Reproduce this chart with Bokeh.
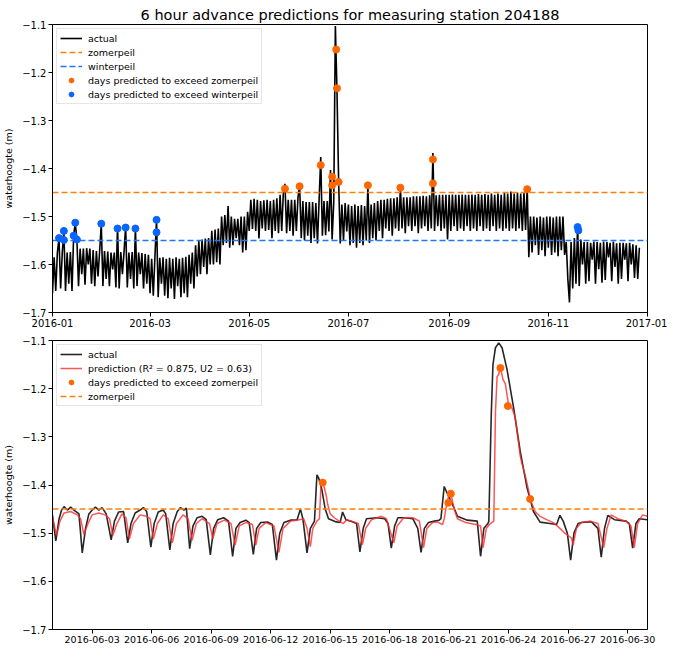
import pandas as pd
from bokeh.plotting import figure
from bokeh.layouts import column
from bokeh.models import FixedTicker, DatetimeTickFormatter, Range1d, Legend, LegendItem
from bokeh.embed import file_html
from bokeh.resources import INLINE

FONT = "DejaVu Sans"

# ---------------- data ----------------
title_text = "6 hour advance predictions for measuring station 204188"
y_label = "waterhoogte (m)"
zomerpeil = -1.45
winterpeil = -1.55

y_tick_values = [-1.7, -1.6, -1.5, -1.4, -1.3, -1.2, -1.1]
y_tick_labels = ["\u22121.7", "\u22121.6", "\u22121.5", "\u22121.4", "\u22121.3", "\u22121.2", "\u22121.1"]

# --- whole year: one value per day from 2016-01-01 ---
year_start = "2016-01-01"
year_end = "2017-01-01"
year_actual = [
    -1.660, -1.585, -1.655, -1.575, -1.545, -1.650, -1.576, -1.530, -1.655, -1.575,  # d0
    -1.640, -1.574, -1.655, -1.540, -1.513, -1.548, -1.645, -1.567, -1.620, -1.567,  # d10
    -1.642, -1.566, -1.600, -1.567, -1.640, -1.570, -1.645, -1.572, -1.625, -1.572,  # d20
    -1.515, -1.645, -1.572, -1.630, -1.573, -1.645, -1.575, -1.610, -1.575, -1.648,  # d30
    -1.520, -1.650, -1.574, -1.620, -1.574, -1.520, -1.648, -1.575, -1.630, -1.574,  # d40
    -1.650, -1.522, -1.645, -1.575, -1.620, -1.576, -1.650, -1.578, -1.640, -1.580,  # d50
    -1.660, -1.588, -1.665, -1.585, -1.505, -1.668, -1.586, -1.640, -1.585, -1.665,  # d60
    -1.588, -1.670, -1.586, -1.650, -1.588, -1.672, -1.585, -1.645, -1.588, -1.668,  # d70
    -1.586, -1.660, -1.584, -1.668, -1.580, -1.640, -1.575, -1.650, -1.560, -1.625,  # d80
    -1.550, -1.620, -1.548, -1.605, -1.546, -1.620, -1.545, -1.600, -1.530, -1.600,  # d90
    -1.527, -1.595, -1.525, -1.600, -1.500, -1.560, -1.497, -1.555, -1.478, -1.565,  # d100
    -1.500, -1.560, -1.505, -1.545, -1.505, -1.560, -1.500, -1.575, -1.500, -1.570,  # d110
    -1.490, -1.530, -1.465, -1.526, -1.463, -1.530, -1.465, -1.546, -1.468, -1.525,  # d120
    -1.466, -1.530, -1.465, -1.528, -1.468, -1.545, -1.465, -1.530, -1.462, -1.535,  # d130
    -1.455, -1.530, -1.450, -1.432, -1.535, -1.465, -1.530, -1.465, -1.540, -1.465,  # d140
    -1.530, -1.460, -1.435, -1.545, -1.468, -1.550, -1.470, -1.540, -1.470, -1.555,  # d150
    -1.470, -1.545, -1.472, -1.556, -1.465, -1.376, -1.540, -1.468, -1.539, -1.468,  # d160
    -1.531, -1.403, -1.548, -1.470, -1.103, -1.240, -1.425, -1.556, -1.475, -1.550,  # d170
    -1.472, -1.531, -1.475, -1.560, -1.478, -1.555, -1.475, -1.565, -1.478, -1.555,  # d180
    -1.476, -1.560, -1.478, -1.550, -1.435, -1.555, -1.475, -1.545, -1.472, -1.550,  # d190
    -1.468, -1.530, -1.465, -1.545, -1.465, -1.525, -1.463, -1.530, -1.462, -1.540,  # d200
    -1.462, -1.525, -1.460, -1.530, -1.438, -1.525, -1.460, -1.535, -1.460, -1.520,  # d210
    -1.460, -1.530, -1.458, -1.520, -1.458, -1.535, -1.458, -1.525, -1.457, -1.520,  # d220
    -1.458, -1.530, -1.456, -1.525, -1.368, -1.530, -1.456, -1.520, -1.455, -1.530,  # d230
    -1.455, -1.525, -1.455, -1.548, -1.455, -1.530, -1.454, -1.520, -1.455, -1.530,  # d240
    -1.455, -1.525, -1.454, -1.530, -1.455, -1.520, -1.455, -1.530, -1.454, -1.525,  # d250
    -1.455, -1.530, -1.453, -1.520, -1.455, -1.530, -1.453, -1.525, -1.455, -1.530,  # d260
    -1.452, -1.520, -1.455, -1.530, -1.452, -1.525, -1.455, -1.530, -1.450, -1.525,  # d270
    -1.452, -1.530, -1.448, -1.525, -1.452, -1.530, -1.450, -1.525, -1.452, -1.530,  # d280
    -1.450, -1.528, -1.440, -1.585, -1.500, -1.575, -1.500, -1.560, -1.502, -1.580,  # d290
    -1.500, -1.570, -1.502, -1.583, -1.500, -1.565, -1.500, -1.580, -1.502, -1.575,  # d300
    -1.500, -1.583, -1.500, -1.570, -1.500, -1.580, -1.553, -1.630, -1.679, -1.553,  # d310
    -1.650, -1.545, -1.640, -1.520, -1.645, -1.548, -1.600, -1.553, -1.640, -1.553,  # d320
    -1.635, -1.555, -1.590, -1.552, -1.640, -1.553, -1.610, -1.555, -1.638, -1.552,  # d330
    -1.632, -1.553, -1.585, -1.555, -1.635, -1.552, -1.605, -1.556, -1.640, -1.555,  # d340
    -1.630, -1.555, -1.590, -1.556, -1.635, -1.555, -1.600, -1.558, -1.628, -1.560,  # d350
    -1.630, -1.565,                                                                  # d360
]
year_zomer_days = [143, 152, 165, 172, 172, 174.5, 175, 176, 194, 214, 234, 234, 292]
year_zomer_vals = [-1.442, -1.437, -1.393, -1.417, -1.435, -1.152, -1.233, -1.428,
                   -1.435, -1.440, -1.381, -1.431, -1.443]
year_winter_days = [4, 7, 7, 13, 14, 15, 30, 40, 45, 51, 64, 64, 323, 323.5]
year_winter_vals = [-1.545, -1.530, -1.549, -1.540, -1.513, -1.548, -1.515, -1.525,
                    -1.523, -1.525, -1.507, -1.533, -1.522, -1.529]
year_ticks = ["2016-01", "2016-03", "2016-05", "2016-07", "2016-09", "2016-11", "2017-01"]

# --- June 2016 (hours from 2016-06-01 00:00) ---
june_start = "2016-06-01"
june_end = "2016-07-01"
june_t_actual = [
    0, 4, 8, 11, 14, 18, 22, 26, 32, 36,
    40, 44, 48, 52, 56, 60, 65, 71, 75, 80,
    86, 91, 95, 100, 106, 110, 114, 119, 123, 128,
    134, 137, 142, 146, 151, 155, 159, 162, 166, 170,
    175, 181, 186, 191, 195, 200, 207, 213, 218, 222,
    227, 234, 238, 243, 247, 252, 260, 266, 271, 275,
    280, 288, 296, 300, 303, 308, 312, 317, 320, 322,
    326, 330, 334, 342, 348, 351, 355, 362, 368, 372,
    376, 380, 392, 402, 406, 410, 414, 418, 425, 436,
    442, 446, 450, 455, 462, 468, 470, 474, 477, 484,
    490, 502, 514, 518, 522, 527, 528, 531, 533, 536,
    540, 544, 550, 558, 566, 574, 582, 590, 602, 610,
    614, 618, 623, 627, 631, 636, 640, 652, 660, 664,
    668, 672, 680, 694, 698, 702, 706, 710, 720,
]
june_actual = [
    -1.463, -1.516, -1.470, -1.452, -1.445, -1.452, -1.446, -1.452, -1.460, -1.541,
    -1.490, -1.460, -1.452, -1.446, -1.452, -1.447, -1.460, -1.514, -1.475, -1.456,
    -1.455, -1.520, -1.480, -1.458, -1.452, -1.447, -1.455, -1.529, -1.480, -1.456,
    -1.452, -1.460, -1.535, -1.480, -1.455, -1.447, -1.452, -1.448, -1.532, -1.485,
    -1.468, -1.465, -1.472, -1.545, -1.490, -1.472, -1.468, -1.475, -1.548, -1.490,
    -1.478, -1.473, -1.478, -1.544, -1.490, -1.478, -1.477, -1.482, -1.556, -1.500,
    -1.478, -1.473, -1.472, -1.450, -1.470, -1.541, -1.490, -1.475, -1.379, -1.385,
    -1.410, -1.450, -1.470, -1.476, -1.478, -1.456, -1.472, -1.476, -1.480, -1.539,
    -1.490, -1.470, -1.468, -1.470, -1.480, -1.531, -1.485, -1.468, -1.468, -1.470,
    -1.490, -1.540, -1.490, -1.478, -1.475, -1.473, -1.470, -1.403, -1.415, -1.440,
    -1.465, -1.473, -1.475, -1.548, -1.490, -1.480, -1.475, -1.250, -1.150, -1.115,
    -1.105, -1.115, -1.160, -1.240, -1.330, -1.404, -1.455, -1.477, -1.480, -1.482,
    -1.463, -1.475, -1.500, -1.556, -1.500, -1.480, -1.478, -1.476, -1.490, -1.550,
    -1.490, -1.463, -1.472, -1.475, -1.480, -1.531, -1.480, -1.470, -1.472,
]
june_t_pred = [
    0, 5, 9, 14, 22, 30, 34, 38, 43, 48,
    56, 64, 69, 73, 78, 84, 89, 93, 98, 106,
    114, 118, 122, 127, 134, 140, 145, 150, 158, 164,
    169, 174, 181, 190, 194, 199, 208, 216, 221, 226,
    234, 242, 246, 250, 258, 268, 274, 279, 288, 296,
    304, 308, 312, 315, 320, 323, 325, 328, 331, 333,
    336, 341, 347, 352, 356, 362, 370, 375, 379, 386,
    398, 404, 413, 417, 425, 436, 444, 449, 453, 460,
    466, 472, 474, 477, 480, 483, 486, 490, 500, 512,
    518, 521, 525, 530, 534, 536, 538, 540, 542, 545,
    548, 552, 556, 560, 563, 566, 568, 572, 576, 578,
    584, 590, 598, 606, 614, 620, 624, 628, 630, 634,
    640, 650, 660, 667, 671, 676, 684, 694, 700, 704,
    708, 714, 720,
]
june_pred = [
    -1.468, -1.505, -1.475, -1.458, -1.455, -1.462, -1.470, -1.503, -1.480, -1.462,
    -1.458, -1.462, -1.470, -1.505, -1.480, -1.460, -1.468, -1.512, -1.480, -1.462,
    -1.465, -1.470, -1.512, -1.480, -1.462, -1.470, -1.520, -1.480, -1.462, -1.470,
    -1.515, -1.480, -1.470, -1.480, -1.512, -1.480, -1.473, -1.480, -1.525, -1.485,
    -1.478, -1.482, -1.525, -1.490, -1.478, -1.485, -1.540, -1.490, -1.475, -1.473,
    -1.470, -1.490, -1.528, -1.490, -1.475, -1.470, -1.395, -1.400, -1.420, -1.440,
    -1.460, -1.468, -1.475, -1.480, -1.472, -1.475, -1.480, -1.524, -1.490, -1.472,
    -1.465, -1.470, -1.520, -1.485, -1.468, -1.468, -1.475, -1.530, -1.490, -1.478,
    -1.477, -1.482, -1.470, -1.440, -1.418, -1.425, -1.450, -1.470, -1.478, -1.482,
    -1.485, -1.530, -1.490, -1.480, -1.475, -1.250, -1.175, -1.170, -1.155, -1.180,
    -1.190, -1.235, -1.240, -1.260, -1.300, -1.340, -1.355, -1.380, -1.410, -1.430,
    -1.455, -1.465, -1.472, -1.478, -1.490, -1.500, -1.505, -1.510, -1.525, -1.490,
    -1.478, -1.475, -1.480, -1.530, -1.490, -1.462, -1.470, -1.475, -1.485, -1.530,
    -1.480, -1.462, -1.465,
]
june_dot_hours = [327, 479, 482, 542, 551, 578]
june_dot_vals = [-1.395, -1.437, -1.418, -1.157, -1.236, -1.429]
june_ticks = ["2016-06-03", "2016-06-06", "2016-06-09", "2016-06-12", "2016-06-15",
              "2016-06-18", "2016-06-21", "2016-06-24", "2016-06-27", "2016-06-30"]
pred_label = "prediction (R\u00b2 = 0.875, U2 = 0.63)"

# colours
C_ACTUAL = "black"
C_ZOMER_LINE = "#ff7f0e"
C_WINTER_LINE = "#1f77ff"
C_ZOMER_DOT = "#ff6600"
C_WINTER_DOT = "#0a64ff"
C_PRED = "#ff2a2a"


def ms(ts):
    return int(pd.Timestamp(ts).value // 10**6)


def style(p, tick_list, fmt, xfont):
    p.xgrid.visible = False
    p.ygrid.visible = False
    p.outline_line_color = "black"
    p.outline_line_width = 1
    p.background_fill_color = "white"
    p.border_fill_color = "white"
    p.xaxis.ticker = FixedTicker(ticks=[ms(t) for t in tick_list])
    p.xaxis.formatter = DatetimeTickFormatter(
        milliseconds=fmt, seconds=fmt, minsec=fmt, minutes=fmt, hourmin=fmt,
        hours=fmt, days=fmt, months=fmt, years=fmt)
    p.yaxis.ticker = FixedTicker(ticks=y_tick_values)
    p.yaxis.major_label_overrides = dict(zip(y_tick_values, y_tick_labels))
    for ax in (p.xaxis[0], p.yaxis[0]):
        ax.axis_line_color = "black"
        ax.major_tick_line_color = "black"
        ax.major_tick_out = 4
        ax.major_tick_in = 0
        ax.minor_tick_line_color = None
        ax.major_label_text_font = FONT
        ax.major_label_text_font_size = "10px"
        ax.major_label_text_color = "black"
        ax.major_label_standoff = 2
    p.xaxis.major_label_text_font_size = xfont
    p.yaxis.axis_label = y_label
    p.yaxis.axis_label_text_font = FONT
    p.yaxis.axis_label_text_font_size = "9.5px"
    p.yaxis.axis_label_text_font_style = "normal"
    p.yaxis.axis_label_text_color = "black"
    p.yaxis.axis_label_standoff = 5


def make_legend(items):
    lg = Legend(items=items, location="top_left")
    lg.label_text_font = FONT
    lg.label_text_font_size = "9.5px"
    lg.label_text_color = "black"
    lg.label_height = 12
    lg.glyph_height = 12
    lg.glyph_width = 22
    lg.label_standoff = 6
    lg.spacing = 2
    lg.padding = 3
    lg.margin = 4
    lg.border_line_color = "#cccccc"
    lg.border_line_width = 1
    lg.background_fill_color = "white"
    lg.background_fill_alpha = 0.85
    return lg


# ---------------- top figure: whole year ----------------
base_year = pd.Timestamp(year_start)
year_x = base_year + pd.to_timedelta(list(range(len(year_actual))), unit="D")
zomer_x = base_year + pd.to_timedelta(year_zomer_days, unit="D")
winter_x = base_year + pd.to_timedelta(year_winter_days, unit="D")

p1 = figure(width=667, height=332, x_axis_type="datetime", output_backend="svg",
            toolbar_location=None,
            x_range=Range1d(pd.Timestamp(year_start), pd.Timestamp(year_end)),
            y_range=Range1d(y_tick_values[0], y_tick_values[-1]),
            min_border_left=49, min_border_right=20, min_border_top=24, min_border_bottom=20)
p1.title.text = title_text
p1.title.text_font = FONT
p1.title.text_font_size = "14.5px"
p1.title.text_font_style = "normal"
p1.title.text_color = "black"
p1.title.align = "center"
p1.title.standoff = 4
style(p1, year_ticks, "%Y-%m", "10px")

edge_x = [pd.Timestamp(year_start), pd.Timestamp(year_end)]
r_act = p1.line(year_x, year_actual, line_color=C_ACTUAL, line_width=1.6)
r_zl = p1.line(edge_x, [zomerpeil, zomerpeil], line_color=C_ZOMER_LINE, line_width=1.5, line_dash="6 3")
r_wl = p1.line(edge_x, [winterpeil, winterpeil], line_color=C_WINTER_LINE, line_width=1.5, line_dash="6 3")
r_zd = p1.scatter(zomer_x, year_zomer_vals, size=7, fill_color=C_ZOMER_DOT, line_color=C_ZOMER_DOT)
r_wd = p1.scatter(winter_x, year_winter_vals, size=7, fill_color=C_WINTER_DOT, line_color=C_WINTER_DOT)
p1.add_layout(make_legend([
    LegendItem(label="actual", renderers=[r_act]),
    LegendItem(label="zomerpeil", renderers=[r_zl]),
    LegendItem(label="winterpeil", renderers=[r_wl]),
    LegendItem(label="days predicted to exceed zomerpeil", renderers=[r_zd]),
    LegendItem(label="days predicted to exceed winterpeil", renderers=[r_wd]),
]))

# ---------------- bottom figure: June ----------------
base_june = pd.Timestamp(june_start)
ja_x = base_june + pd.to_timedelta(june_t_actual, unit="h")
jp_x = base_june + pd.to_timedelta(june_t_pred, unit="h")
jd_x = base_june + pd.to_timedelta(june_dot_hours, unit="h")

p2 = figure(width=667, height=315, x_axis_type="datetime", output_backend="svg",
            toolbar_location=None,
            x_range=Range1d(pd.Timestamp(june_start), pd.Timestamp(june_end)),
            y_range=Range1d(y_tick_values[0], y_tick_values[-1]),
            min_border_left=49, min_border_right=20, min_border_top=8, min_border_bottom=18)
style(p2, june_ticks, "%Y-%m-%d", "9.5px")

edge_j = [pd.Timestamp(june_start), pd.Timestamp(june_end)]
r2_act = p2.line(ja_x, june_actual, line_color=C_ACTUAL, line_width=1.6, line_alpha=0.85)
r2_pred = p2.line(jp_x, june_pred, line_color=C_PRED, line_width=1.5, line_alpha=0.8)
r2_zd = p2.scatter(jd_x, june_dot_vals, size=7, fill_color=C_ZOMER_DOT, line_color=C_ZOMER_DOT)
r2_zl = p2.line(edge_j, [zomerpeil, zomerpeil], line_color=C_ZOMER_LINE, line_width=1.5, line_dash="6 3")
p2.add_layout(make_legend([
    LegendItem(label="actual", renderers=[r2_act]),
    LegendItem(label=pred_label, renderers=[r2_pred]),
    LegendItem(label="days predicted to exceed zomerpeil", renderers=[r2_zd]),
    LegendItem(label="zomerpeil", renderers=[r2_zl]),
]))

layout = column(p1, p2)
open("out.html", "w").write(file_html(layout, INLINE))
